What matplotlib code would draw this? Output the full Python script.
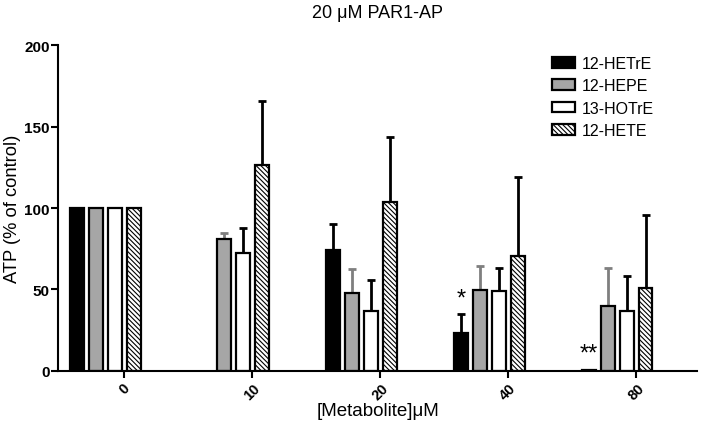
import numpy as np
import matplotlib
matplotlib.use("Agg")
import matplotlib.pyplot as plt

plt.rcParams['font.family'] = ['Liberation Sans', 'DejaVu Sans']
plt.rcParams['hatch.linewidth'] = 0.8

categories = ['0', '10', '20', '40', '80']
series = ['12-HETrE', '12-HEPE', '13-HOTrE', '12-HETE']
hetre = [100, np.nan, 74, 23.5, 0.8]
hetre_err = [0, 0, 16.5, 11.5, 0]
hepe = [100, 81, 48, 49.7, 40]
hepe_err = [0, 3.5, 14.5, 14.5, 23.5]
hotre = [100, 72.5, 36.5, 49, 36.5]
hotre_err = [0, 15.5, 19.5, 14, 22]
hete = [100, 126.5, 103.5, 70.5, 51]
hete_err = [0, 39, 40, 48.5, 45]
signif = ['', '', '', '*', '**']

values = [hetre, hepe, hotre, hete]
errors = [hetre_err, hepe_err, hotre_err, hete_err]
faces = ['black', '#a6a6a6', 'white', 'white']
hatches = [None, None, None, '\\\\\\\\\\\\\\']
errcolors = ['black', '#7f7f7f', 'black', 'black']

fig = plt.figure(figsize=(7.03, 4.31), dpi=100)
ax = fig.add_axes([0.0825, 0.137, 0.909, 0.756])

x = np.arange(len(categories))
step = 0.148
width = 0.104
center_shift = -0.145
offsets = (np.arange(4) - 1.5) * step + center_shift

for i in range(4):
    xi = x + offsets[i]
    ax.bar(xi, values[i], width=width, color=faces[i], edgecolor='black',
           linewidth=1.6, hatch=hatches[i], label=series[i], zorder=2)
    v = np.array(values[i], dtype=float)
    e = np.array(errors[i], dtype=float)
    mask = (~np.isnan(v)) & (e > 0)
    ax.errorbar(xi[mask], v[mask], yerr=[np.zeros(mask.sum()), e[mask]],
                fmt='none', ecolor=errcolors[i], elinewidth=2.0, capsize=3,
                capthick=2.0, zorder=1)

for j, s in enumerate(signif):
    if s:
        v = hetre[j] + hetre_err[j]
        ax.text(x[j] + offsets[0], v + 3, s, ha='center', va='bottom',
                fontsize=17, color='black')

ax.set_xlim(-0.516, 4.477)
ax.set_ylim(0, 200)
ax.set_yticks([0, 50, 100, 150, 200])
ax.set_xticks(x)
ax.set_xticklabels(categories, rotation=45, ha='center', fontweight='bold', fontsize=10.5)
for lab in ax.get_yticklabels():
    lab.set_fontweight('bold')
    lab.set_fontsize(11)
ax.tick_params(axis='both', width=1.5, length=5)
ax.tick_params(axis='y', pad=1)
ax.tick_params(axis='x', pad=2)
for side in ['top', 'right']:
    ax.spines[side].set_visible(False)
for side in ['left', 'bottom']:
    ax.spines[side].set_linewidth(1.5)

ax.set_ylabel('ATP (% of control)', fontsize=13.2, labelpad=2)
ax.set_xlabel('[Metabolite]\u03bcM', fontsize=13.5, labelpad=0)
ax.set_title('20 \u03bcM PAR1-AP', fontsize=13, pad=20)

leg = ax.legend(loc='upper left', bbox_to_anchor=(0.75, 1.01), frameon=False,
                fontsize=11.5, handlelength=1.45, handleheight=0.65,
                labelspacing=0.45, handletextpad=0.45)

fig.savefig('out.png', dpi=100)
